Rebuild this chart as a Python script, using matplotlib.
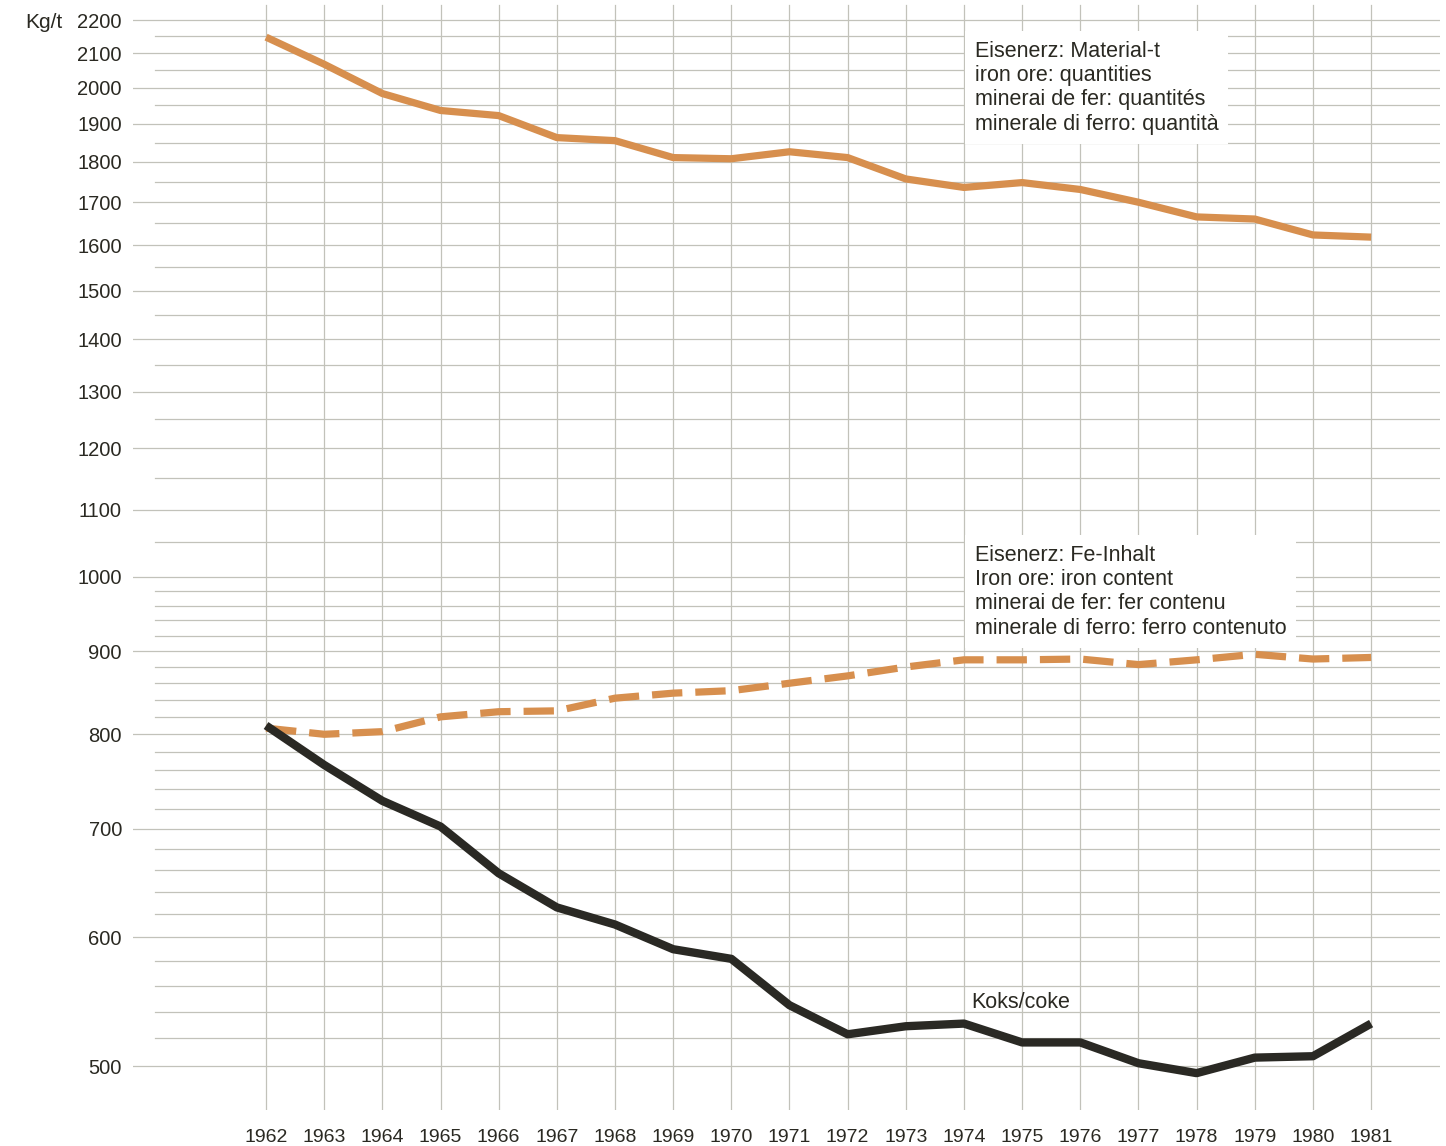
import matplotlib
matplotlib.use('Agg')
import matplotlib.pyplot as plt
import numpy as np

# data (kg per tonne of pig iron)
years = list(range(1962, 1982))
ore_quantity = [2148, 2067, 1983, 1936, 1922, 1863, 1855, 1811, 1808, 1826,
                1811, 1757, 1736, 1748, 1731, 1700, 1665, 1660, 1623, 1618]
ore_fe_content = [807, 800, 803, 820, 826, 827, 842, 848, 851, 860,
                  869, 880, 889, 889, 890, 883, 889, 896, 890, 892]
coke = [810, 766, 728, 702, 657, 626, 611, 590, 582, 545,
        523, 529, 531, 517, 517, 502, 495, 506, 507, 531]

label_ore = "Eisenerz: Material-t\niron ore: quantities\nminerai de fer: quantités\nminerale di ferro: quantità"
label_fe = "Eisenerz: Fe-Inhalt\nIron ore: iron content\nminerai de fer: fer contenu\nminerale di ferro: ferro contenuto"
label_coke = "Koks/coke"

major_y = list(range(500, 2201, 100))
minor_y = [v for v in range(520, 1000, 20) if v % 100 != 0] + list(range(1050, 2200, 100))

orange = '#d78f4e'
dark = '#2a2924'
gridc = '#c2c2ba'
textc = '#2a2922'
tickfont = ['Liberation Sans', 'DejaVu Sans']

fig = plt.figure(figsize=(14.46, 11.46), dpi=100)
ax = fig.add_axes([0.0920, 0.0314, 0.9039, 0.9686])
ax.set_yscale('log')
ax.set_xlim(1959.713, 1982.186)
ax.set_ylim(469.8, 2264)

for v in major_y:
    ax.axhline(v, color=gridc, lw=0.9, zorder=1)
for v in minor_y:
    ax.axhline(v, xmin=0.0168, color=gridc, lw=0.9, zorder=1)
for yr in years:
    ax.axvline(yr, ymax=0.9955, color=gridc, lw=0.9, zorder=1)

ax.plot(years, ore_quantity, color=orange, lw=5.2, solid_capstyle='butt', zorder=3)
ax.plot(years, ore_fe_content, color=orange, lw=5.2, dashes=(4.2, 1.8), zorder=3)
ax.plot(years, coke, color=dark, lw=6.0, solid_capstyle='butt', zorder=4)

ax.set_yticks(major_y)
ax.set_yticklabels([str(v) for v in major_y])
ax.yaxis.set_minor_locator(matplotlib.ticker.NullLocator())
ax.set_xticks(years)
ax.set_xticklabels([str(y) for y in years])
ax.tick_params(axis='y', length=0, pad=8, labelsize=14.5, labelcolor=textc)
ax.tick_params(axis='x', length=0, pad=14, labelsize=14, labelcolor=textc)
for lab in ax.get_xticklabels() + ax.get_yticklabels():
    lab.set_family(tickfont)
for s in ax.spines.values():
    s.set_visible(False)

fig.text(25 / 1446, 1 - 22 / 1146, "Kg/t", ha='left', va='center', fontsize=15,
         color=textc, family=tickfont)

box = dict(facecolor='white', edgecolor='none', pad=7)
ax.text(0.644, 0.963, label_ore, transform=ax.transAxes, ha='left', va='top',
        fontsize=15.5, color=textc, family='Liberation Sans', linespacing=1.2,
        bbox=box, zorder=5)
ax.text(0.644, 0.509, label_fe, transform=ax.transAxes, ha='left', va='top',
        fontsize=15.5, color=textc, family='Liberation Sans', linespacing=1.2,
        bbox=box, zorder=5)
ax.text(0.641, 0.0973, label_coke, transform=ax.transAxes, ha='left', va='center',
        fontsize=15.5, color=textc, family=tickfont, zorder=5)

fig.savefig('out.png', dpi=100, facecolor='white')
